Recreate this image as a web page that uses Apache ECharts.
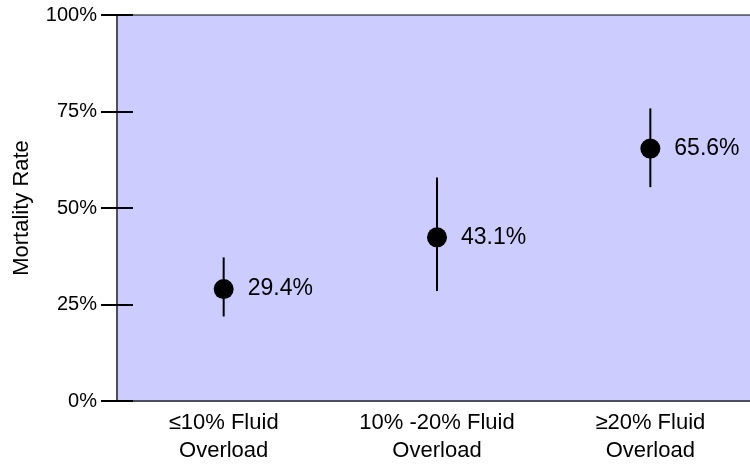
<!DOCTYPE html>
<html><head><meta charset="utf-8">
<script src="https://cdn.jsdelivr.net/npm/echarts@6/dist/echarts.min.js"></script>
<style>html,body{margin:0;padding:0;background:#fff}#c{width:750px;height:464px}</style>
</head><body><div id="c"></div>
<script>
const categories = ['≤10% Fluid\nOverload', '10% -20% Fluid\nOverload', '≥20% Fluid\nOverload'];
const rates = [29.0, 42.4, 65.4];
const rateLabels = ['29.4%', '43.1%', '65.6%'];
const ciLow = [21.9, 28.5, 55.4];
const ciHigh = [37.2, 57.9, 75.8];
const yTicks = [0, 25, 50, 75, 100];

const font = 'Liberation Sans, Arial, sans-serif';
const chart = echarts.init(document.getElementById('c'));
chart.setOption({
  animation: false,
  grid: {left: 117, top: 15, width: 640, height: 386, outerBoundsMode: 'none', containLabel: false,
    show: true, backgroundColor: '#CCCCFF', borderColor: '#000', borderWidth: 1},
  xAxis: {
    type: 'category', data: categories,
    axisLine: {lineStyle: {color: '#4d4d5c', width: 2}},
    axisTick: {show: false},
    axisLabel: {color: '#000', fontSize: 22, fontFamily: font, lineHeight: 28, margin: 8}
  },
  yAxis: [{
    type: 'value', min: 0, max: 100, interval: 25,
    name: 'Mortality Rate', nameLocation: 'middle', nameGap: 84,
    nameTextStyle: {color: '#000', fontSize: 22, fontFamily: font},
    axisLine: {show: true, lineStyle: {color: '#4d4d5c', width: 2}},
    axisTick: {show: true, length: 16, lineStyle: {color: '#000', width: 2}},
    axisLabel: {color: '#000', fontSize: 20, fontFamily: font, margin: 20, formatter: v => yTicks.includes(v) ? v + '%' : ''},
    splitLine: {show: false}
  }, {
    type: 'value', min: 0, max: 100, interval: 25, position: 'left',
    axisLine: {show: false},
    axisTick: {show: true, inside: true, length: 16, lineStyle: {color: '#000', width: 2}},
    axisLabel: {show: false}, splitLine: {show: false}
  }],
  series: [{
    type: 'custom',
    data: categories.map((c, i) => [i, ciLow[i], ciHigh[i]]),
    renderItem: function (params, api) {
      const lo = api.coord([api.value(0), api.value(1)]);
      const hi = api.coord([api.value(0), api.value(2)]);
      return {type: 'line', shape: {x1: lo[0], y1: lo[1], x2: hi[0], y2: hi[1]}, style: {stroke: '#000', lineWidth: 2}};
    },
    z: 2
  }, {
    type: 'scatter',
    data: rates.map((v, i) => [i, v]),
    symbol: 'circle', symbolSize: 20,
    itemStyle: {color: '#000', opacity: 1},
    label: {show: true, position: 'right', distance: 14, color: '#000', fontSize: 23, fontFamily: font,
      formatter: p => rateLabels[p.dataIndex]},
    z: 3
  }]
});
</script></body></html>
